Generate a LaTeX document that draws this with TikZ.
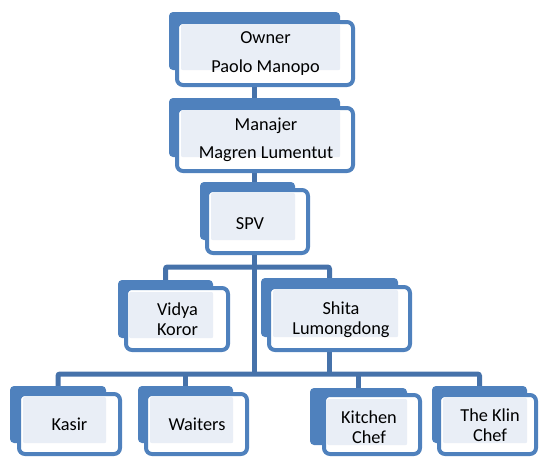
\documentclass[tikz,border=0pt]{standalone}
\usepackage{fontspec}
\setmainfont{Carlito}
\usetikzlibrary{backgrounds}

\definecolor{boxblue}{HTML}{4F81BD}
\definecolor{linkblue}{HTML}{4672AA}
\definecolor{paleblue}{HTML}{E9EEF6}

\tikzset{
  backbox/.style={fill=boxblue, rounded corners=4pt, inner sep=0pt},
  frontbox/.style={draw=boxblue, line width=4pt, fill=white, rounded corners=6pt, inner sep=0pt},
  paleface/.style={fill=paleblue, rounded corners=2pt},
  label/.style={font=\fontsize{18.3}{20}\selectfont, align=center, inner sep=0pt, text=black},
  link/.style={draw=linkblue, line width=5pt, rounded corners=2pt}
}

\begin{document}
\begin{tikzpicture}[x=1pt,y=-1pt]
		\useasboundingbox (0,0) rectangle (539,458);
		
		% top two levels
		\node[backbox, minimum width=171, minimum height=58] (ownerB) at (254.5,41) {};
		\node[frontbox, minimum width=176, minimum height=63] (owner) at (265,53.5) {};
		\fill[paleface] ([shift={(6,4)}]owner.north west) rectangle (ownerB.south east);
		\node[label] (ownerT) at (265.5,53.3) {Owner\\[9pt]Paolo Manopo};
		
		\node[backbox, minimum width=171, minimum height=59] (manajerB) at (254.5,127.5) {};
		\node[frontbox, minimum width=176, minimum height=63] (manajer) at (265,139.5) {};
		\fill[paleface] ([shift={(6,4)}]manajer.north west) rectangle (manajerB.south east);
		\node[label] (manajerT) at (266,140) {Manajer\\[8pt]Magren Lumentut};
		
		\node[backbox, minimum width=95, minimum height=58] (spvB) at (247.5,211) {};
		\node[frontbox, minimum width=101, minimum height=63] (spv) at (257.5,221.5) {};
		\fill[paleface] ([shift={(6,5)}]spv.north west) rectangle (spvB.south east);
		\node[label] (spvT) at (250,223.5) {SPV};
		
		% middle level
		\node[backbox, minimum width=95, minimum height=58] (vidyaB) at (165.5,309) {};
		\node[frontbox, minimum width=102, minimum height=62] (vidya) at (177,319) {};
		\fill[paleface] ([shift={(5,6)}]vidya.north west) rectangle (vidyaB.south east);
		\node[label] (vidyaT) at (177.5,319.5) {Vidya\\Koror};
		
		\node[backbox, minimum width=137, minimum height=59] (shitaB) at (329.5,307.5) {};
		\node[frontbox, minimum width=141, minimum height=63] (shita) at (339.5,318.5) {};
		\fill[paleface] ([shift={(6,5)}]shita.north west) rectangle (shitaB.south east);
		\node[label] (shitaT) at (341,320) {Shita\\Lumongdong};
		
		% bottom level
		\node[backbox, minimum width=96, minimum height=57] (kasirB) at (58,414.5) {};
		\node[frontbox, minimum width=101, minimum height=60] (kasir) at (69.5,424) {};
		\fill[paleface] ([shift={(6,5)}]kasir.north west) rectangle (kasirB.south east);
		\node[label] (kasirT) at (69.5,424.5) {Kasir};
		
		\node[backbox, minimum width=95, minimum height=57] (waitersB) at (185.5,414.5) {};
		\node[frontbox, minimum width=101, minimum height=60] (waiters) at (196.5,424) {};
		\fill[paleface] ([shift={(6,5)}]waiters.north west) rectangle (waitersB.south east);
		\node[label] (waitersT) at (197,424.5) {Waiters};
		
		\node[backbox, minimum width=97, minimum height=57] (kitchenB) at (358.5,416.5) {};
		\node[frontbox, minimum width=96, minimum height=59] (kitchen) at (372,424.5) {};
		\fill[paleface] ([shift={(5,6)}]kitchen.north west) rectangle (kitchenB.south east);
		\node[label] (kitchenT) at (369,427) {Kitchen\\Chef};
		
		\node[backbox, minimum width=95, minimum height=57] (klinB) at (479.5,414.5) {};
		\node[frontbox, minimum width=97, minimum height=59] (klin) at (487.5,424.5) {};
		\fill[paleface] ([shift={(6,5)}]klin.north west) rectangle (klinB.south east);
		\node[label] (klinT) at (490,425) {The Klin\\Chef};
		
		% connectors, behind the boxes
		\coordinate (busa) at (0,267);
		\coordinate (busb) at (0,374);
		\begin{pgfonlayer}{background}
			\draw[link] (ownerB.south) -- (manajerB.north);
			\draw[link] (manajerB.south) -- (manajerB.south |- busb);
			\draw[link] (vidyaB.north) -- (vidyaB.north |- busa) -- (shitaB.north |- busa) -- (shitaB.north);
			\draw[link] (shitaB.south) -- (shitaB.south |- busb);
			\draw[link] (kasirB.north) -- (kasirB.north |- busb) -- (klinB.north |- busb) -- (klinB.north);
			\draw[link] (waitersB.north) -- (waitersB.north |- busb);
			\draw[link] (kitchenB.north) -- (kitchenB.north |- busb);
		\end{pgfonlayer}
	\end{tikzpicture}
\end{document}
